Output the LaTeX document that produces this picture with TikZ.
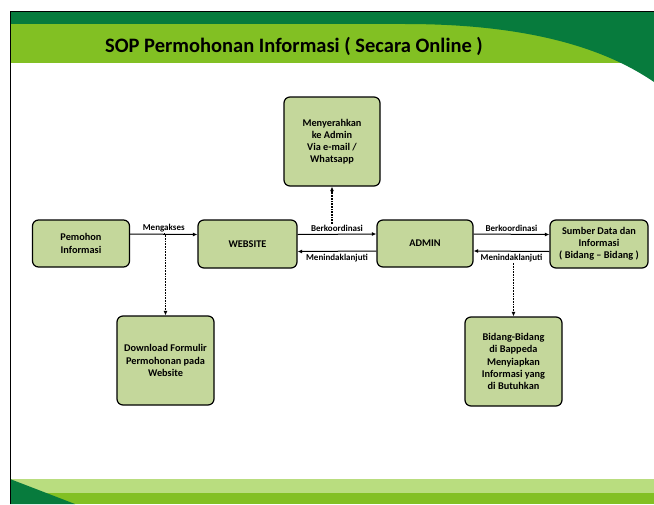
\documentclass[tikz,border=0pt]{standalone}
\usepackage{fontspec}
\setmainfont{Carlito}
\usetikzlibrary{arrows.meta}
\definecolor{boxgreen}{RGB}{196,215,155}
\definecolor{darkband}{RGB}{7,123,61}
\definecolor{limeband}{RGB}{130,192,35}
\definecolor{paleband}{RGB}{185,221,127}

\begin{document}
\begin{tikzpicture}[x=1pt, y=-1pt,
  every node/.style={font=\bfseries\fontsize{10.3}{12.2}\selectfont, align=center},
  stepbox/.style={draw, line width=1.2pt, rounded corners=6pt, fill=boxgreen, inner sep=2pt},
  linklabel/.style={font=\bfseries\fontsize{9}{10}\selectfont, inner sep=1pt},
  link/.style={-{Latex[length=4.5pt,width=4pt]}, line width=1pt},
  dotlink/.style={-{Latex[length=4.5pt,width=4pt]}, line width=1.7pt, densely dotted}]
\useasboundingbox (0,0) rectangle (654,504);

% slide bands
\fill[limeband] (10,24) rectangle (654,63);
\fill[darkband] (10,11) rectangle (654,24);
\fill[darkband] (405,24) .. controls (520,24) and (600,45) .. (654,82) -- (654,24) -- cycle;
\fill[paleband] (10,479) rectangle (654,493);
\fill[limeband] (10,493) rectangle (654,504);
\fill[darkband] (10,479) -- (75,504) -- (10,504) -- cycle;
\draw[line width=1pt] (10,504) -- (10,11) -- (654,11);

\node[font=\bfseries\fontsize{20.5}{24}\selectfont] (title) at (294,46) {SOP Permohonan Informasi ( Secara Online )};

% boxes
\node[stepbox, minimum width=97pt, minimum height=47pt] (pemohon) at (81,243.5) {Pemohon\\Informasi};
\node[stepbox, minimum width=99pt, minimum height=48pt] (website) at (247.5,244) {WEBSITE};
\node[stepbox, minimum width=96pt, minimum height=47pt] (admin) at (425,243.5) {ADMIN};
\node[stepbox, minimum width=98pt, minimum height=48pt] (sumber) at (599,244) {Sumber Data dan\\Informasi\\( Bidang -- Bidang )};
\node[stepbox, minimum width=96pt, minimum height=89pt] (serah) at (332,141.5) {Menyerahkan\\ke Admin\\Via e-mail /\\Whatsapp};
\node[stepbox, minimum width=97pt, minimum height=89pt] (download) at (165.5,360.5) {Download Formulir\\Permohonan pada\\Website};
\node[stepbox, minimum width=97pt, minimum height=89pt] (bidang) at (513.5,361.5) {Bidang-Bidang\\di Bappeda\\Menyiapkan\\Informasi yang\\di Butuhkan};

% connectors
\draw[link] ([yshift=9.5pt]pemohon.east) -- ([yshift=9.5pt]website.west)
  node[midway, above=1pt, linklabel] (akseslbl) {Mengakses} coordinate[midway] (akses);
\draw[link] ([yshift=9.5pt]website.east) -- ([yshift=9.5pt]admin.west)
  node[midway, above=1pt, linklabel] (koord1) {Berkoordinasi};
\draw[link] ([yshift=-7.5pt]admin.west) -- ([yshift=-7.5pt]website.east)
  node[midway, below=1pt, linklabel] (tindak1) {Menindaklanjuti};
\draw[link] ([yshift=9.5pt]admin.east) -- ([yshift=9.5pt]sumber.west)
  node[midway, above=1pt, linklabel] (koord2) {Berkoordinasi};
\draw[link] ([yshift=-7.5pt]sumber.west) -- ([yshift=-7.5pt]admin.east)
  node[midway, below=1pt, linklabel] (tindak2) {Menindaklanjuti};

\draw[dotlink] (akses) -- (download.north |- akses) -- (download.north);
\draw[dotlink] (serah.south |- koord1.north) -- (serah.south);
\draw[dotlink] (bidang.north |- tindak2.south) -- (bidang.north);
\end{tikzpicture}
\end{document}
